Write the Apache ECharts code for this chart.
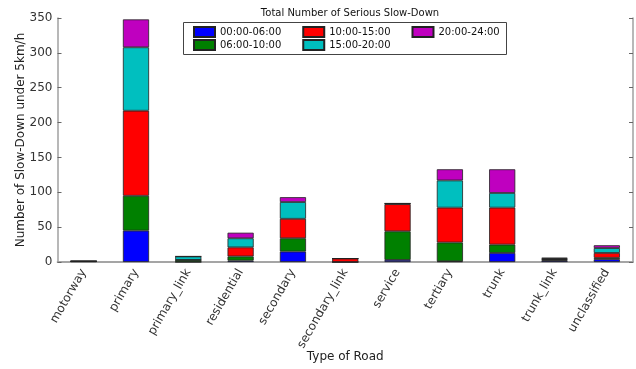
<!DOCTYPE html>
<html>
<head>
<meta charset="utf-8">
<script src="https://cdn.jsdelivr.net/npm/echarts@6/dist/echarts.min.js"></script>
<style>
  html, body { margin: 0; padding: 0; background: #fff; }
  #chart { width: 636px; height: 369px; }
</style>
</head>
<body>
<div id="chart"></div>
<script>
// Road types along the x axis
const roadTypes = ['motorway', 'primary', 'primary_link', 'residential', 'secondary',
  'secondary_link', 'service', 'tertiary', 'trunk', 'trunk_link', 'unclassified'];

// Counts of serious slow-downs per time window, stacked per road type
const slot0006 = [1, 45, 0, 2, 15, 0, 3, 1, 13, 2, 4];
const slot0610 = [0, 50, 3, 6, 19, 0, 41, 27, 12, 1, 2];
const slot1015 = [0, 122, 0, 13, 28, 5, 39, 50, 53, 1, 7];
const slot1520 = [0, 91, 5, 13, 24, 0, 1, 39, 21, 1, 7];
const slot2024 = [0, 40, 0, 8, 7, 0, 0, 16, 34, 1, 4];

const slotNames = ['00:00-06:00', '06:00-10:00', '10:00-15:00', '15:00-20:00', '20:00-24:00'];
const slotColors = ['#0000ff', '#008000', '#ff0000', '#00bfbf', '#bf00bf'];
const slotValues = [slot0006, slot0610, slot1015, slot1520, slot2024];

const yTicks = { min: 0, max: 350, interval: 50 };

const FONT = 'DejaVu Sans';
const frame = '#a0a0a0';

const chart = echarts.init(document.getElementById('chart'), null, { renderer: 'canvas' });

const series = slotNames.map((name, i) => ({
  name,
  type: 'bar',
  stack: 'total',
  barWidth: '50%',
  data: slotValues[i],
  itemStyle: { color: slotColors[i], borderColor: '#222', borderWidth: 0.8 },
  emphasis: { disabled: true }
}));

const legendCommon = {
  orient: 'horizontal',
  icon: 'rect',
  itemWidth: 21,
  itemHeight: 10,
  itemGap: 21,
  textStyle: { fontFamily: FONT, fontSize: 10, color: '#111' },
  selectedMode: false
};

chart.setOption({
  animation: false,
  title: {
    text: 'Total Number of Serious Slow-Down',
    left: 345,
    textAlign: 'center',
    top: 3,
    textStyle: { fontFamily: FONT, fontSize: 10, fontWeight: 'normal', color: '#111' }
  },
  grid: { left: 57.5, right: 3, top: 18, bottom: 107, containLabel: false, outerBoundsMode: 'none' },
  legend: [
    Object.assign({}, legendCommon, {
      left: 188, top: 21,
      data: ['00:00-06:00', '10:00-15:00', '20:00-24:00']
    }),
    Object.assign({}, legendCommon, {
      left: 188, top: 34,
      data: ['06:00-10:00', '15:00-20:00']
    })
  ],
  graphic: [{
    type: 'rect',
    shape: { x: 183.5, y: 22.5, width: 323, height: 32 },
    style: { fill: 'none', stroke: '#444', lineWidth: 1 },
    z: 0
  }],
  xAxis: [{
    type: 'category',
    data: roadTypes,
    name: 'Type of Road',
    nameLocation: 'middle',
    nameGap: 89,
    nameMoveOverlap: false,
    nameTextStyle: { fontFamily: FONT, fontSize: 12, color: '#222' },
    axisLine: { lineStyle: { color: frame, width: 1.5 } },
    axisTick: { inside: true, alignWithLabel: true, length: 4, lineStyle: { color: '#666' } },
    axisLabel: { rotate: 60, interval: 0, fontFamily: FONT, fontSize: 12, color: '#333', margin: 8 },
    splitLine: { show: false }
  }, {
    type: 'category',
    data: roadTypes,
    position: 'top',
    axisLine: { lineStyle: { color: frame, width: 1.5 } },
    axisTick: { inside: true, alignWithLabel: true, length: 4, lineStyle: { color: '#666' } },
    axisLabel: { show: false },
    splitLine: { show: false }
  }],
  yAxis: [{
    type: 'value',
    min: yTicks.min, max: yTicks.max, interval: yTicks.interval,
    name: 'Number of Slow-Down under 5km/h',
    nameLocation: 'middle',
    nameGap: 31,
    nameMoveOverlap: false,
    nameTextStyle: { fontFamily: FONT, fontSize: 12, color: '#222' },
    axisLine: { show: true, lineStyle: { color: frame, width: 1.5 } },
    axisTick: { show: true, inside: true, length: 4, lineStyle: { color: '#666' } },
    axisLabel: { fontFamily: FONT, fontSize: 12, color: '#333', margin: 5 },
    splitLine: { show: false }
  }, {
    type: 'value',
    position: 'right',
    min: yTicks.min, max: yTicks.max, interval: yTicks.interval,
    axisLine: { show: true, lineStyle: { color: frame, width: 1.5 } },
    axisTick: { show: true, inside: true, length: 4, lineStyle: { color: '#666' } },
    axisLabel: { show: false },
    splitLine: { show: false }
  }],
  series
});
</script>
</body>
</html>
